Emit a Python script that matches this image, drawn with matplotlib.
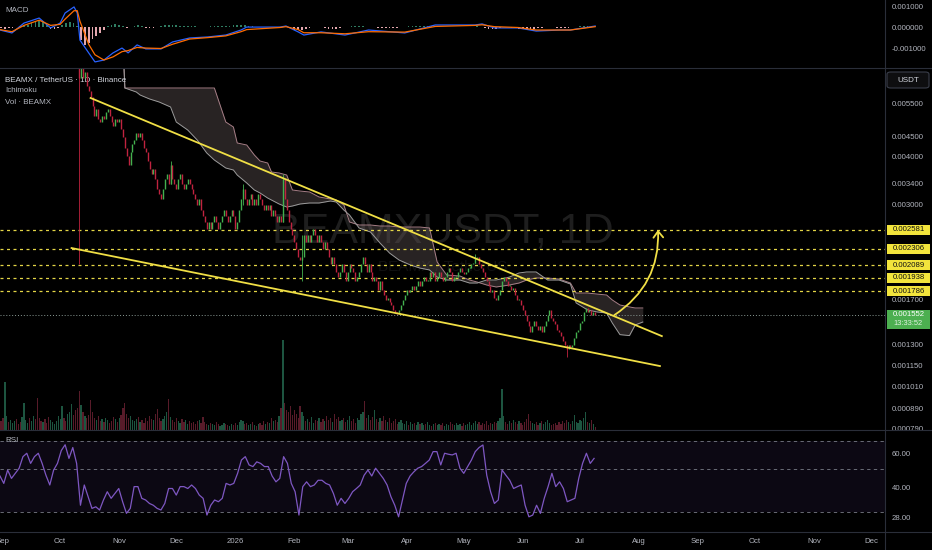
import numpy as np
import pandas as pd
import matplotlib
matplotlib.use("Agg")
import matplotlib.pyplot as plt
from matplotlib.lines import Line2D
from matplotlib.patches import FancyArrowPatch, Rectangle, FancyBboxPatch
from matplotlib.ticker import FixedLocator, NullLocator, FuncFormatter

START = pd.Timestamp("2025-09-01")   # day 0 of the x axis


def day(s):
    return (pd.Timestamp(s) - START).days


# ---------------- data ----------------
# daily closes from 2025-08-31 (day -1) to 2026-07-09 (day 311)
closes = [
    0.0082, 0.0079, 0.0080, 0.0081, 0.0079, 0.0080, 0.0082, 0.0083, 0.0081, 0.0080,
    0.0078, 0.0080, 0.0082, 0.0084, 0.0085, 0.0083, 0.0084, 0.0086, 0.0085, 0.0083,
    0.0081, 0.0080, 0.0082, 0.0081, 0.0079, 0.0078, 0.0080, 0.0081, 0.0083, 0.0085,
    0.0086, 0.0088, 0.0090, 0.0089, 0.0087, 0.0088, 0.0091, 0.0093, 0.0092, 0.0090,
    0.0088,
    0.0064, 0.0069, 0.0064, 0.0066, 0.0061, 0.0059, 0.0057, 0.0054, 0.0051, 0.0053,
    0.0050, 0.0049, 0.0051, 0.0050, 0.0052, 0.0053, 0.0051, 0.0049, 0.0048, 0.0050,
    0.0049, 0.0050, 0.0047, 0.0045, 0.0042, 0.0040, 0.0038, 0.0041, 0.0043, 0.0044,
    0.0046, 0.0045, 0.0046, 0.0044, 0.0042, 0.0041, 0.0039, 0.0037, 0.0036, 0.0037,
    0.0035, 0.0033, 0.0032, 0.0031, 0.0033, 0.0035, 0.0036, 0.0034, 0.0038, 0.0035,
    0.0034, 0.0033, 0.0035, 0.0036, 0.0034, 0.0033, 0.0034, 0.0035, 0.0034, 0.0033,
    0.0032, 0.0031, 0.0030, 0.0031, 0.0029, 0.0028, 0.0027, 0.0026, 0.0027, 0.0026,
    0.0027, 0.0028, 0.0027, 0.0026, 0.0027, 0.0028, 0.0029, 0.0028, 0.0027, 0.0028,
    0.0029, 0.0028, 0.0026, 0.0027, 0.0029, 0.0031, 0.0033, 0.0031, 0.0030, 0.0031,
    0.0032, 0.0030, 0.0031, 0.0030, 0.0032, 0.0031, 0.0030, 0.0029, 0.0030, 0.0029,
    0.0030, 0.0028, 0.0029, 0.0028, 0.0027, 0.0028, 0.0027, 0.0035, 0.0031, 0.0029,
    0.0027, 0.0026, 0.0025, 0.0024, 0.0023, 0.0022, 0.00215, 0.0022, 0.0025, 0.0024,
    0.0025, 0.0024, 0.0025, 0.0026, 0.0025, 0.0024, 0.0025, 0.0024, 0.0023, 0.0024,
    0.0023, 0.0022, 0.0021, 0.0022, 0.0021, 0.0020, 0.00195, 0.0020, 0.0021, 0.0020,
    0.0019, 0.0020, 0.0021, 0.00205, 0.0020, 0.0019, 0.00195, 0.0020, 0.0021, 0.0022,
    0.0021, 0.0020, 0.0021, 0.0020, 0.0019, 0.00195, 0.0019, 0.0018, 0.0019, 0.0018,
    0.00175, 0.0017, 0.00172, 0.00168, 0.00165, 0.0016, 0.00158, 0.00156, 0.0016, 0.00165,
    0.0017, 0.00175, 0.0018, 0.00178, 0.0018, 0.00185, 0.0018, 0.00185, 0.0019, 0.00185,
    0.0019, 0.00195, 0.0019, 0.0019, 0.0020, 0.00195, 0.0020, 0.0019, 0.00195, 0.0020,
    0.00195, 0.0019, 0.00195, 0.0020, 0.00205, 0.0020, 0.0019, 0.00195, 0.00195, 0.0020,
    0.00205, 0.0020, 0.00198, 0.0020, 0.00205, 0.00205, 0.0021, 0.00212, 0.00218, 0.0022,
    0.0021, 0.00205, 0.0020, 0.00195, 0.0019, 0.00185, 0.00178, 0.0018, 0.00172, 0.0017,
    0.00175, 0.0018, 0.0019, 0.00195, 0.0019, 0.00185, 0.00185, 0.0018, 0.00182, 0.00175,
    0.0017, 0.0017, 0.00165, 0.0016, 0.00155, 0.0015, 0.00145, 0.0014, 0.00145, 0.0015,
    0.00145, 0.00142, 0.00145, 0.0014, 0.00145, 0.0015, 0.00155, 0.0016, 0.00152, 0.0015,
    0.00147, 0.00142, 0.0014, 0.00137, 0.00133, 0.0013, 0.00127, 0.0013, 0.00128, 0.0013,
    0.00135, 0.0014, 0.00142, 0.00148, 0.0015, 0.00158, 0.00162, 0.00158, 0.0016, 0.00155,
    0.00158, 0.001552,
]
first_open = 0.0083

# the wicks that stand out
wick_days = [40, 88, 126, 147, 157, 248, 296]
wick_highs = [0.0090, 0.0039, 0.0034, 0.0036, 0.0025, 0.00223, 0.0013]
wick_lows = [0.0021, 0.0034, 0.0030, 0.0027, 0.0019, 0.00212, 0.00121]

# daily volume (millions BEAMX), day -1 .. 311
volumes = [
    9, 12, 48, 14, 8, 10, 7, 9, 11, 6,
    8, 13, 27, 10, 7, 12, 9, 14, 11, 32,
    12, 9, 8, 11, 7, 13, 10, 8, 6, 9,
    14, 11, 24, 12, 9, 16, 18, 26, 15, 20,
    22, 39, 25, 18, 14, 12, 15, 30, 18, 12,
    10, 14, 9, 11, 8, 12, 10, 7, 9, 13,
    11, 8, 12, 15, 22, 27, 16, 12, 14, 10,
    9, 11, 13, 8, 10, 7, 12, 9, 14, 11,
    10, 16, 21, 12, 9, 11, 14, 18, 31, 13,
    10, 8, 12, 9, 7, 11, 8, 10, 6, 9,
    7, 8, 6, 9, 10, 7, 13, 8, 6, 5,
    7, 6, 5, 8, 6, 4, 5, 7, 6, 5,
    4, 6, 5, 7, 5, 8, 10, 9, 6, 7,
    5, 6, 8, 5, 4, 6, 7, 5, 9, 6,
    8, 7, 12, 9, 10, 8, 14, 22, 90, 27,
    20, 18, 24, 15, 20, 16, 12, 24, 18, 14,
    9, 11, 8, 13, 7, 10, 9, 12, 8, 11,
    9, 14, 10, 12, 8, 16, 11, 13, 9, 10,
    12, 8, 10, 14, 9, 11, 7, 12, 10, 16,
    18, 29, 12, 15, 10, 13, 20, 11, 8, 12,
    9, 14, 10, 8, 12, 7, 9, 11, 6, 8,
    10, 7, 6, 9, 5, 8, 6, 7, 5, 8,
    6, 7, 5, 6, 8, 5, 4, 6, 7, 5,
    6, 5, 7, 4, 6, 5, 8, 6, 5, 7,
    5, 6, 4, 7, 5, 6, 8, 5, 7, 9,
    6, 8, 5, 7, 6, 9, 5, 7, 6, 8,
    7, 9, 12, 41, 14, 8, 6, 9, 7, 10,
    8, 6, 9, 7, 5, 8, 11, 16, 9, 7,
    6, 8, 5, 7, 9, 6, 8, 10, 7, 5,
    6, 7, 5, 8, 6, 9, 7, 10, 8, 6,
    9, 15, 8, 7, 10, 9, 12, 18, 8, 7,
    10, 6, 3,
]

# Ichimoku cloud (already shifted 26 bars ahead)
cloud_days = [63, 64, 67, 70, 72, 77, 82, 88, 91, 97, 102, 107, 111, 114, 117, 121, 123,
              128, 132, 135, 139, 141, 145, 149, 152, 156, 161, 166, 172, 175, 179, 182,
              187, 193, 198, 203, 208, 214, 219, 224, 228, 233, 240, 245, 249, 254, 259,
              266, 271, 275, 280, 286, 292, 298, 301, 307, 312, 317, 320, 324, 329, 332, 336]
span_b = [0.0078, 0.006015, 0.006015, 0.006015, 0.006015, 0.006015, 0.006015, 0.006015,
          0.006015, 0.006015, 0.006015, 0.006015, 0.006015, 0.005435, 0.00491, 0.004766,
          0.004332, 0.00428, 0.004032, 0.00389, 0.003844, 0.003643, 0.003622, 0.003578,
          0.003272, 0.003252, 0.003233, 0.003138, 0.003101, 0.003082, 0.002992, 0.002703,
          0.002655, 0.002655, 0.002639, 0.002639, 0.002623, 0.002623, 0.002623, 0.002608,
          0.002129, 0.00197, 0.001958, 0.001912, 0.001889, 0.001856, 0.001834, 0.001856,
          0.001878, 0.001912, 0.001935, 0.001935, 0.001923, 0.001878, 0.001769, 0.001769,
          0.001758, 0.001748, 0.001697, 0.001647, 0.001628, 0.001618, 0.001618]
span_a = [0.0078, 0.006015, 0.005944, 0.005873, 0.005769, 0.005633, 0.005533, 0.00537,
          0.00491, 0.004681, 0.00441, 0.004081, 0.003913, 0.003821, 0.003731, 0.003687,
          0.003578, 0.003412, 0.003272, 0.003214, 0.003119, 0.003082, 0.00301, 0.002956,
          0.002974, 0.00301, 0.003028, 0.003028, 0.003064, 0.003046, 0.002903, 0.002818,
          0.002608, 0.002546, 0.002384, 0.002246, 0.002154, 0.002091, 0.002053, 0.00203,
          0.001946, 0.001912, 0.001912, 0.001878, 0.001878, 0.001912, 0.001912, 0.001946,
          0.001994, 0.002006, 0.002006, 0.001912, 0.001912, 0.001867, 0.001667, 0.001599,
          0.00158, 0.00157, 0.001479, 0.00138, 0.001372, 0.001462, 0.001488]

# drawings
upper_trend = [("2025-10-17", 0.005667), ("2026-08-13", 0.001368)]
lower_trend = [("2025-10-07", 0.002314), ("2026-08-12", 0.001144)]
levels = [0.002581, 0.002306, 0.002089, 0.001938, 0.001786]
arrow_from = ("2026-07-19", 0.00155)
arrow_to = ("2026-08-11", 0.00258)
last_price = 0.001552
countdown = "13:33:52"

# MACD (12, 26, 9)
macd_days = [-1.6, 4.7, 11, 19, 25, 30, 32.6, 37.3, 39, 40.4, 45, 48.3, 53, 57.8, 62.5,
             65.7, 70.4, 75, 83, 89, 98, 107.7, 117, 125, 128, 145.5, 148.6, 155, 158, 167,
             179.6, 192, 211, 227, 248, 251.6, 258, 270.5, 280, 292.5, 298, 311]
macd_line = [-0.00012, -0.00026, 0.00021, 0.00045, -0.00002, 0.00021, 0.00069, 0.00098,
             0.00069, -0.0006, -0.00121, -0.00164, -0.00155, -0.00121, -0.00098, -0.00121,
             -0.00083, -0.00102, -0.00102, -0.00069, -0.0005, -0.00045, -0.00036, -0.00012,
             0.00002, 0.00002, 0.00007, -0.00021, -0.00036, -0.00021, -0.00036, -0.00012,
             -0.00026, 0.00012, 0.00012, 0.00017, -0.00002, -0.00002, -0.00017, -0.00012,
             -0.00012, 0.00007]
signal_line = [-0.0001, -0.0002, 0.0001, 0.00035, 0.0001, 0.00015, 0.0004, 0.0008, 0.0008,
               0.0003, -0.0008, -0.0013, -0.00155, -0.0014, -0.00115, -0.0011, -0.00095,
               -0.00098, -0.001, -0.0008, -0.00055, -0.00048, -0.0004, -0.0002, -0.0001, 0.0,
               0.00004, -0.0001, -0.00025, -0.00025, -0.0003, -0.0002, -0.00022, 0.00005,
               0.0001, 0.00013, 0.00004, 0.0, -0.00012, -0.00012, -0.00012, 0.00004]
# histogram every second day from day -1, in 1e-5
macd_hist = [
    -3, -5, -4, -2, 3, 8, 14, 12, 20, 30, 33,
    25, 10, -5, -8, -3, 10, 22, 25, 20, 5,
    -60, -85, -75, -55, -40, -25, -10, 5, 12, 15,
    10, 5, -3, 2, 8, 10, 5, -2, -3, -1,
    2, 5, 10, 14, 12, 10, 8, 9, 8, 6,
    5, 3, 2, 4, 6, 8, 9, 8, 7, 8,
    10, 12, 12, 10, 8, 6, 4, 3, 2, 1,
    0, 2, 4, 8, 6, -4, -10, -14, -12, -6,
    -2, 3, 4, 2, -2, -5, -6, -5, -3, 0,
    3, 5, 6, 6, 5, 3, 1, 0, -2, -3,
    -4, -4, -3, -2, 0, 2, 5, 7, 8, 8,
    7, 6, 5, 4, 3, 2, 2, 1, 1, 2,
    3, 3, 3, 4, 5, 4, -2, -6, -8, -7,
    -3, 2, 1, -2, -4, -6, -7, -8, -7, -5,
    -3, -1, 1, 3, 2, -1, -3, -4, -2, 1,
    4, 6, 7, 6, 5, 4,
]

# RSI (14), one reading every two days from 2025-08-30
rsi = [
    46.1, 42.2, 49.5, 44.8, 47.6, 50.6, 58.1, 60.5, 53.6, 58.1,
    60.5, 53.6, 46.5, 41.4, 49.5, 53.6, 62.5, 67.0, 56.9, 64.8,
    53.6, 32.5, 41.4, 36.0, 31.3, 31.9, 30.7, 34.6, 38.2, 35.3,
    37.4, 39.7, 33.9, 29.5, 31.3, 40.6, 40.6, 35.3, 34.6, 33.2,
    32.5, 31.3, 30.7, 33.2, 39.7, 39.7, 36.7, 40.6, 40.6, 39.7,
    41.4, 39.7, 36.7, 35.3, 28.9, 32.5, 34.6, 33.9, 35.3, 42.2,
    41.4, 42.2, 47.6, 55.8, 58.1, 52.6, 51.6, 54.6, 53.6, 51.6,
    51.6, 46.1, 43.0, 44.8, 58.1, 53.6, 42.2, 38.2, 28.9, 40.6,
    43.0, 40.6, 41.4, 43.8, 43.8, 42.2, 41.4, 37.4, 32.5, 35.3,
    33.2, 35.3, 38.2, 39.7, 41.4, 46.5, 49.5, 46.1, 50.6, 47.6,
    44.8, 41.4, 36.0, 32.5, 28.3, 34.6, 42.2, 46.1, 48.5, 50.6,
    51.6, 53.6, 55.8, 61.7, 61.7, 52.6, 60.5, 59.8, 59.3, 60.5,
    50.6, 47.6, 51.6, 55.8, 61.7, 64.8, 66.8, 46.5, 38.2, 33.2,
    34.6, 49.5, 46.5, 43.8, 39.7, 40.6, 41.4, 32.5, 28.3, 28.9,
    32.5, 29.5, 35.3, 40.6, 47.6, 40.6, 43.0, 39.7, 33.9, 34.6,
    35.3, 44.8, 53.6, 60.5, 53.6, 56.9,
]

price_ticks = [0.0055, 0.0045, 0.004, 0.0034, 0.003, 0.0017, 0.0013, 0.00115,
               0.00101, 0.00089, 0.00079]
rsi_ticks = [60, 40, 28]
macd_ticks = [0.001, 0.0, -0.001]

# ---------------- style ----------------
BG = "#000000"
TXT = "#b2b5be"
SEP = "#2a2e39"
UP = "#43b04e"
DOWN = "#c0233f"
YEL = "#f0df45"
FONT = "Liberation Sans"
plt.rcParams["font.family"] = [FONT, "DejaVu Sans"]

W, H = 932, 550
PANE_R = 885
fig = plt.figure(figsize=(W / 100, H / 100), dpi=100, facecolor=BG)


def rect(top, bottom):
    return [0, 1 - bottom / H, PANE_R / W, (bottom - top) / H]


ax_macd = fig.add_axes(rect(0, 68))
ax_vol = fig.add_axes(rect(68, 430), sharex=ax_macd)
ax = fig.add_axes(rect(68, 430), sharex=ax_macd)
ax_rsi = fig.add_axes(rect(430, 532), sharex=ax_macd)

for a in (ax_macd, ax_vol, ax, ax_rsi):
    a.set_facecolor(BG)
    for s in a.spines.values():
        s.set_visible(False)
    a.tick_params(colors=TXT, labelsize=5.6, length=0)
ax.patch.set_visible(False)
ax_vol.axis("off")

days = np.arange(-1, -1 + len(closes))
closes_a = np.array(closes)
opens = np.concatenate([[first_open], closes_a[:-1]])
up = closes_a >= opens

ax_macd.set_xlim(-1.58, 463.2)

# ---- volume ----
ax_vol.bar(days, volumes, width=0.65, color=np.where(up, "#1d5540", "#581b29"), lw=0)
ax_vol.set_ylim(0, 362)

# ---- main pane ----
ax.set_yscale("log")
ax.set_ylim(0.000781, 0.006778)

ax.fill_between(cloud_days, span_a, span_b, color="#66585a", alpha=0.4, lw=0, zorder=1)
ax.plot(cloud_days, span_b, color="#a77f87", lw=0.7, zorder=2)
ax.plot(cloud_days, span_a, color="#9c9c9c", lw=0.7, zorder=2)

lo = np.minimum(opens, closes_a)
hi = np.maximum(np.maximum(opens, closes_a), lo * 1.006)
ax.vlines(days, lo, hi, colors=np.where(up, UP, DOWN), lw=1.0, zorder=4)
wick_up = [up[list(days).index(d)] for d in wick_days]
ax.vlines(wick_days, wick_lows, wick_highs,
          colors=[UP if u else DOWN for u in wick_up], lw=0.6, zorder=3)

for lv in levels:
    ax.axhline(lv, color="#e3d546", lw=0.9, ls=(0, (2.4, 2.8)), zorder=2)
ax.axhline(last_price, color="#8a9a94", lw=0.7, ls=(0, (1, 2)), zorder=2)

for tr in (upper_trend, lower_trend):
    ax.plot([day(d) for d, _ in tr], [p for _, p in tr], color=YEL, lw=1.3, zorder=5)

ax.add_patch(FancyArrowPatch((day(arrow_from[0]), arrow_from[1]),
                             (day(arrow_to[0]), arrow_to[1]),
                             connectionstyle="arc3,rad=0.28",
                             arrowstyle="->,head_length=0.45,head_width=0.35",
                             mutation_scale=10, color=YEL, lw=1.3,
                             shrinkA=0, shrinkB=0, zorder=6))

ax.text(0.5, 0.547, "BEAMXUSDT, 1D", transform=ax.transAxes, ha="center", va="center",
        fontsize=31, color="#1e1e1e", zorder=0)
ax.text(0.5, 0.45, "BEAMX / TetherUS", transform=ax.transAxes, ha="center", va="center",
        fontsize=11, color="#111111", zorder=0)

ax.yaxis.tick_right()
ax.yaxis.set_major_locator(FixedLocator(price_ticks))
ax.yaxis.set_minor_locator(NullLocator())
ax.yaxis.set_major_formatter(FuncFormatter(lambda v, p: f"{v:.6f}"))
ax.tick_params(axis="y", pad=5)
ax.tick_params(axis="x", labelbottom=False)

ax.text(5 / PANE_R, (430 - 80) / 362, "BEAMX / TetherUS · 1D · Binance", transform=ax.transAxes,
        fontsize=5.8, color="#d1d4dc", va="center")
ax.text(5 / PANE_R, (430 - 91) / 362, "Ichimoku", transform=ax.transAxes,
        fontsize=5.8, color=TXT, va="center")
ax.text(5 / PANE_R, (430 - 102) / 362, "Vol · BEAMX", transform=ax.transAxes,
        fontsize=5.8, color=TXT, va="center")

# ---- MACD ----
hist_days = np.arange(-1, -1 + 2 * len(macd_hist), 2)
hist = np.array(macd_hist) * 1e-5
ax_macd.bar(hist_days, hist, width=0.9, color=np.where(hist >= 0, "#2f7d62", "#e3a7ae"), lw=0)
ax_macd.plot(macd_days, macd_line, color="#2962ff", lw=0.9)
ax_macd.plot(macd_days, signal_line, color="#ff6d00", lw=0.9)
ax_macd.set_ylim(-0.00193, 0.00131)
ax_macd.yaxis.tick_right()
ax_macd.yaxis.set_major_locator(FixedLocator(macd_ticks))
ax_macd.yaxis.set_major_formatter(FuncFormatter(lambda v, p: f"{v:.6f}"))
ax_macd.tick_params(axis="y", pad=5)
ax_macd.tick_params(axis="x", labelbottom=False)
ax_macd.text(5 / PANE_R, 1 - 11 / 68, "MACD", transform=ax_macd.transAxes,
             fontsize=5.8, color=TXT, va="center")

# ---- RSI ----
rsi_days = -1.6 + 2.013 * np.arange(len(rsi))
ax_rsi.set_yscale("log")
ax_rsi.set_ylim(23.6, 79.9)
ax_rsi.axhspan(30, 70, color="#7e57c2", alpha=0.1, lw=0)
for lv in (70, 50, 30):
    ax_rsi.axhline(lv, color="#787b86", lw=0.6, ls=(0, (4, 4)))
ax_rsi.plot(rsi_days, rsi, color="#7e57c2", lw=0.9)
ax_rsi.yaxis.tick_right()
ax_rsi.yaxis.set_major_locator(FixedLocator(rsi_ticks))
ax_rsi.yaxis.set_minor_locator(NullLocator())
ax_rsi.yaxis.set_major_formatter(FuncFormatter(lambda v, p: f"{v:.2f}"))
ax_rsi.tick_params(axis="y", pad=5)
ax_rsi.text(5 / PANE_R, 1 - 11 / 102, "RSI", transform=ax_rsi.transAxes,
            fontsize=5.8, color=TXT, va="center")

months = pd.date_range("2025-09-01", "2026-12-01", freq="MS")
ax_rsi.set_xticks([(m - START).days for m in months])
ax_rsi.set_xticklabels([str(m.year) if m.month == 1 else m.strftime("%b") for m in months])
ax_rsi.tick_params(axis="x", pad=4)

# ---- frame lines ----
for y in (68, 430, 532):
    fig.add_artist(Line2D([0, 1], [1 - y / H] * 2, color=SEP, lw=0.8))
fig.add_artist(Line2D([PANE_R / W] * 2, [0, 1], color=SEP, lw=0.8))

# ---- price scale boxes ----
to_fig = ax.transData + fig.transFigure.inverted()
for lv in levels:
    yf = to_fig.transform((0, lv))[1]
    fig.add_artist(Rectangle((887 / W, yf - 5 / H), 43 / W, 10 / H, transform=fig.transFigure,
                             facecolor="#f2e43c", edgecolor="none", zorder=5))
    fig.text(908.5 / W, yf, f"{lv:.6f}", ha="center", va="center", fontsize=5.6,
             color="#111111", zorder=6)

yf = to_fig.transform((0, last_price))[1]
fig.add_artist(Rectangle((887 / W, yf - 14 / H), 43 / W, 19 / H, transform=fig.transFigure,
                         facecolor="#4caf50", edgecolor="none", zorder=5))
fig.text(908.5 / W, yf, f"{last_price:.6f}", ha="center", va="center", fontsize=5.6,
         color="white", zorder=6)
fig.text(908.5 / W, yf - 9 / H, countdown, ha="center", va="center", fontsize=5.4,
         color="#dff0df", zorder=6)

fig.add_artist(FancyBboxPatch((887 / W, 1 - 88 / H), 42 / W, 16 / H, transform=fig.transFigure,
                              boxstyle="round,pad=0,rounding_size=0.004",
                              facecolor="#0e0e10", edgecolor="#3a3e4a", lw=0.8, zorder=5))
fig.text(908 / W, 1 - 80 / H, "USDT", ha="center", va="center", fontsize=5.8,
         color="#d1d4dc", zorder=6)

fig.savefig("out.png", dpi=100, facecolor=BG)
